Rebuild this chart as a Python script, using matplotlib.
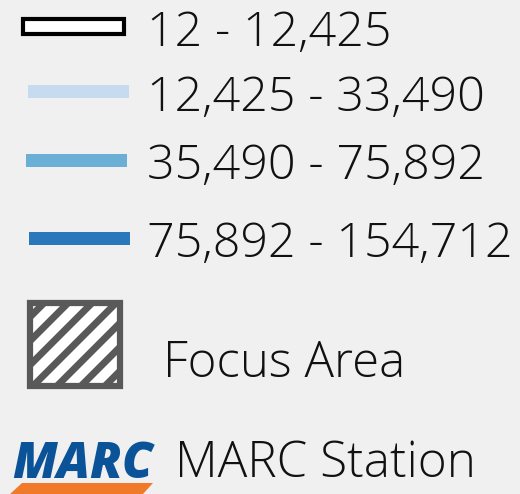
import numpy as np
import matplotlib.pyplot as plt
from matplotlib.patches import Rectangle, Polygon

# legend classes
labels = ["12 - 12,425", "12,425 - 33,490", "35,490 - 75,892", "75,892 - 154,712"]
fill_colors = ["#ffffff", "#c6dbef", "#6baed6", "#2a78bb"]
edge_colors = ["#000000", "#c6dbef", "#6baed6", "#2a78bb"]
swatch_x = [21, 26, 24, 27]
swatch_y = [27, 92, 160, 238]
swatch_h = [18, 16, 16, 16]

focus_label = "Focus Area"
station_label = "MARC Station"
logo_text = "MARC"

BG = "#f0f0f0"
FONT = ["Open Sans", "DejaVu Sans"]
FS = 34.8

fig = plt.figure(figsize=(5.2, 4.94), dpi=100, facecolor=BG)
ax = fig.add_axes([0, 0, 1, 1])
ax.set_facecolor(BG)
ax.set_xlim(0, 520)
ax.set_ylim(494, 0)
ax.axis("off")

for i, lab in enumerate(labels):
    h = swatch_h[i]
    lw = 3 if i == 0 else 0
    ax.add_patch(Rectangle((swatch_x[i] + 1.5, swatch_y[i] - h / 2 + 1.5), 104 - 3, h - 3,
                           facecolor=fill_colors[i], edgecolor=edge_colors[i], linewidth=lw))
    ax.text(147, swatch_y[i] + 1, lab, fontsize=FS, family=FONT, weight="light",
            color="#111111", va="center_baseline", ha="left")

# focus area box with diagonal stripes
bx0, by0, bx1, by1 = 27, 300, 123, 389
inner = Rectangle((bx0, by0), bx1 - bx0, by1 - by0, facecolor="white", edgecolor="none", zorder=2)
ax.add_patch(inner)
for c in np.arange(323, 520, 24):
    ln, = ax.plot([c - by1 - 10, c - by0 + 10], [by1 + 10, by0 - 10], color="#595959",
                  linewidth=5, solid_capstyle="butt", zorder=2.5)
    ln.set_clip_path(inner)
ax.add_patch(Rectangle((bx0 + 3, by0 + 3), bx1 - bx0 - 6, by1 - by0 - 6,
                       facecolor="none", edgecolor="#595959", linewidth=4.5, zorder=4))
ax.text(163, 377, focus_label, fontsize=FS + 0.6, family=FONT, weight="light", color="#111111",
        va="baseline", ha="left")

# MARC logo
ax.text(12, 478, logo_text, fontsize=35.5, family=FONT, weight="heavy", style="italic",
        color="#0b5399", va="baseline", ha="left")
ax.add_patch(Polygon([(10, 494), (22, 483), (153, 483), (143, 494)], closed=True,
                     facecolor="#f07a2a", edgecolor="none"))
ax.text(175, 477, station_label, fontsize=FS + 0.8, family=FONT, weight="light", color="#111111",
        va="baseline", ha="left")

fig.savefig("out.png", dpi=100, facecolor=BG)
